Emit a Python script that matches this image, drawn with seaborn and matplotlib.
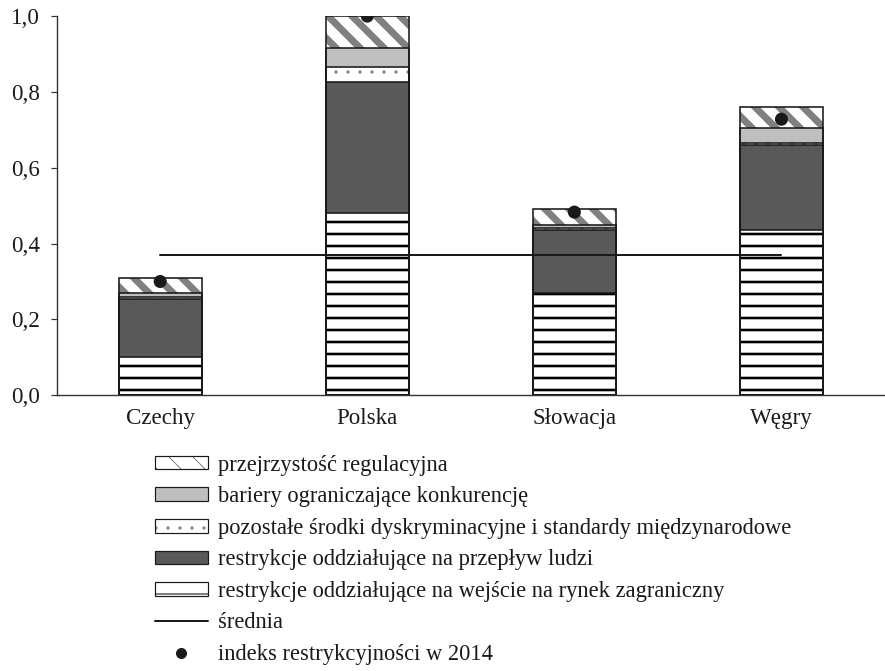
import matplotlib
matplotlib.use("Agg")
import matplotlib.pyplot as plt
from matplotlib.patches import Patch
from matplotlib.lines import Line2D
from matplotlib.ticker import FuncFormatter
import numpy as np
import seaborn as sns

# data
countries = ["Czechy", "Polska", "Słowacja", "Węgry"]
entry = [0.10, 0.48, 0.27, 0.435]          # restrykcje - wejście na rynek
people = [0.155, 0.345, 0.165, 0.225]      # restrykcje - przepływ ludzi
other = [0.005, 0.04, 0.005, 0.005]        # pozostałe środki dyskryminacyjne
barriers = [0.01, 0.05, 0.01, 0.04]        # bariery konkurencji
transparency = [0.04, 0.085, 0.04, 0.055]  # przejrzystość regulacyjna
index_2014 = [0.30, 1.00, 0.483, 0.728]
average = [0.37, 0.37, 0.37, 0.37]

labels = [
    "restrykcje oddziałujące na wejście na rynek zagraniczny",
    "restrykcje oddziałujące na przepływ ludzi",
    "pozostałe środki dyskryminacyjne i standardy międzynarodowe",
    "bariery ograniczające konkurencję",
    "przejrzystość regulacyjna",
]
# face, hatch, hatch colour, hatch linewidth (bars, legend)
styles = [
    ("white", "-", "black", 2.6, 2.6),
    ("#595959", "", "#595959", 1.0, 1.0),
    ("white", ".", "#8c8c8c", 1.0, 1.0),
    ("#bfbfbf", "", "#bfbfbf", 1.0, 1.0),
    ("white", "\\", "#808080", 7.0, 5.0),
]

sns.set_theme(style="ticks")
plt.rcParams["font.family"] = ["Liberation Serif", "DejaVu Serif"]

fig = plt.figure(figsize=(885 / 72, 671 / 72), dpi=72)
ax = fig.add_axes([0.064, 0.411, 0.936, 0.565])

segments = [entry, people, other, barriers, transparency]
cum = np.cumsum(np.array(segments), axis=0)

# draw cumulative bars from the top down so lower segments cover upper ones
for i in range(len(segments) - 1, -1, -1):
    face, hatch, hcol, hlw, _ = styles[i]
    with plt.rc_context({"hatch.linewidth": hlw}):
        sns.barplot(x=countries, y=cum[i], color=face, saturation=1,
                    width=0.4, hatch=hatch, edgecolor=hcol, linewidth=0, ax=ax)
        for p in ax.patches[-len(countries):]:
            if hasattr(p, "set_hatch_linewidth"):
                p.set_hatch_linewidth(hlw)

# black outlines around every segment
for i in range(len(segments)):
    sns.barplot(x=countries, y=cum[i], fill=False, width=0.4,
                edgecolor="#1a1a1a", linewidth=1.6, ax=ax)

sns.lineplot(x=countries, y=average, color="#1a1a1a", linewidth=2, ax=ax, zorder=5)
sns.scatterplot(x=countries, y=index_2014, color="#1a1a1a", s=170,
                edgecolor="none", ax=ax, zorder=6)

ax.set_xlim(-0.5, 3.5)
ax.set_ylim(0, 1.0)
ax.set_yticks([0, 0.2, 0.4, 0.6, 0.8, 1.0])
ax.yaxis.set_major_formatter(FuncFormatter(lambda v, _: f"{v:.1f}".replace(".", ",")))
ax.tick_params(axis="y", length=6, width=1.2, color="#333333", pad=11,
               labelsize=23, labelcolor="#1a1a1a")
ax.tick_params(axis="x", length=0, pad=13, labelsize=23, labelcolor="#1a1a1a")
ax.set_xlabel("")
ax.set_ylabel("")
for s in ["top", "right"]:
    ax.spines[s].set_visible(False)
for s in ["left", "bottom"]:
    ax.spines[s].set_color("#333333")
    ax.spines[s].set_linewidth(1.4)

handles = []
for i in range(len(segments) - 1, -1, -1):
    face, hatch, hcol, _, llw = styles[i]
    with plt.rc_context({"hatch.linewidth": llw}):
        fill = Patch(facecolor=face, hatch=hatch, edgecolor=hcol, linewidth=0)
        if hasattr(fill, "set_hatch_linewidth"):
            fill.set_hatch_linewidth(llw)
    outline = Patch(facecolor="none", edgecolor="#1a1a1a", linewidth=1.2)
    handles.append((fill, outline))
handles.append(Line2D([], [], color="#1a1a1a", linewidth=2))
handles.append(Line2D([], [], color="#1a1a1a", marker="o", linestyle="none",
                      markersize=10))
legend_labels = labels[::-1] + ["średnia", "indeks restrykcyjności w 2014"]

leg = fig.legend(handles=handles, labels=legend_labels, loc="upper left",
                 bbox_to_anchor=(0.165, 0.336), frameon=False, fontsize=22.5,
                 handlelength=2.35, handleheight=0.55, handletextpad=0.45,
                 labelspacing=0.47, borderaxespad=0)
for t in leg.get_texts():
    t.set_color("#1a1a1a")

fig.savefig("out.png", dpi=72)
